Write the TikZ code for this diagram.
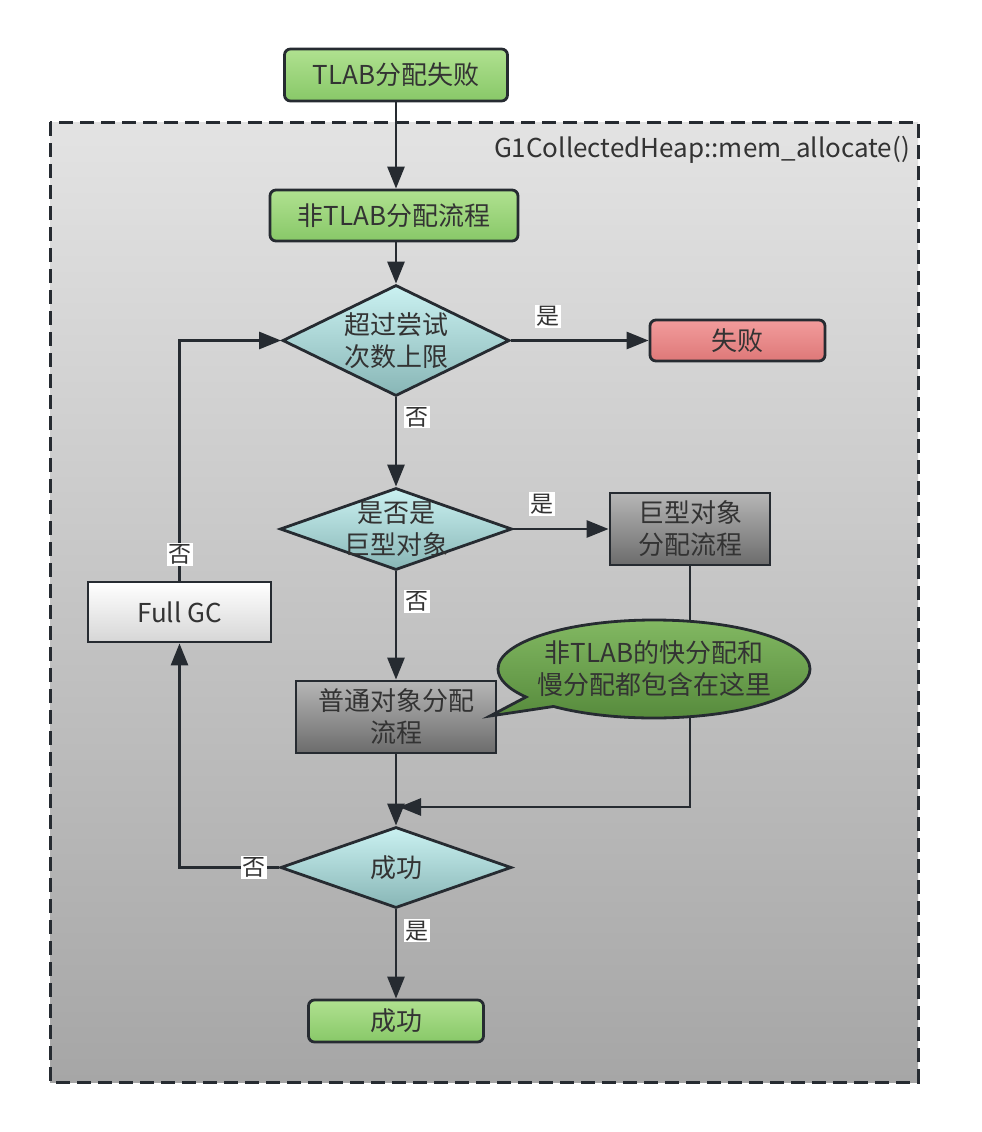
\documentclass[tikz,border=0pt]{standalone}
\usepackage{fontspec}
\setmainfont{Noto Sans CJK SC}
\usetikzlibrary{arrows.meta,shapes.geometric,shapes.callouts}
\newcommand{\fs}[2]{\fontsize{#1}{#2}\selectfont}

\definecolor{lc}{HTML}{262B31}
\definecolor{txt}{HTML}{333333}
\definecolor{bgA}{HTML}{E3E3E3}
\definecolor{bgB}{HTML}{A6A6A6}
\definecolor{gA}{HTML}{B0E190}
\definecolor{gB}{HTML}{88C868}
\definecolor{rA}{HTML}{F29C9C}
\definecolor{rB}{HTML}{DE7878}
\definecolor{kA}{HTML}{B6B6B6}
\definecolor{kB}{HTML}{6C6C6C}
\definecolor{wA}{HTML}{FFFFFF}
\definecolor{wB}{HTML}{D6D6D6}
\definecolor{dA}{HTML}{CAF1F1}
\definecolor{dB}{HTML}{88B6B6}
\definecolor{cA}{HTML}{82B862}
\definecolor{cB}{HTML}{54883A}

\tikzset{
  box/.style={draw=lc, line width=2.8pt, inner sep=0pt, align=center,
    text=txt, font=\fs{26}{32}},
  greenbox/.style={box, rounded corners=6pt, top color=gA, bottom color=gB},
  redbox/.style={box, rounded corners=6pt, top color=rA, bottom color=rB},
  graybox/.style={box, top color=kA, bottom color=kB},
  whitebox/.style={box, top color=wA, bottom color=wB},
  decision/.style={diamond, draw=lc, line width=2.8pt, inner sep=0pt,
    top color=dA, bottom color=dB},
  dtext/.style={align=center, text=txt, font=\fs{26}{32}, inner sep=0pt},
  arr/.style={draw=lc, line width=2.8pt, -{Triangle[length=22pt,width=17pt]}},
  lbl/.style={fill=white, text=txt, font=\fs{23}{27}, inner sep=1.5pt},
}

\begin{document}
\begin{tikzpicture}[x=1pt,y=-1pt]
\useasboundingbox (0,0) rectangle (982,1132);

% enclosing frame of G1CollectedHeap::mem_allocate()
\draw[lc, line width=3pt, dash pattern=on 14pt off 7pt, top color=bgA, bottom color=bgB]
  (50,122) rectangle (918,1082);
\node[anchor=east, text=txt, font=\fs{26}{32}, inner sep=0pt] (frame) at (910,150)
  {G1CollectedHeap::mem\_allocate()};

% process boxes
\node[greenbox, minimum width=223pt, minimum height=52pt] (tlab) at (396,75) {TLAB分配失败};
\node[greenbox, minimum width=248pt, minimum height=51pt] (ntlab) at (394,215.5) {非TLAB分配流程};
\node[redbox, minimum width=175pt, minimum height=41pt] (fail) at (737.5,340.5) {失败};
\node[graybox, minimum width=160pt, minimum height=72pt] (big) at (690,529) {巨型对象\\分配流程};
\node[graybox, minimum width=200pt, minimum height=72pt] (ord) at (396,717) {普通对象分配\\流程};
\node[whitebox, minimum width=183pt, minimum height=60pt] (fgc) at (179.5,612) {Full GC};
\node[greenbox, minimum width=175pt, minimum height=42pt] (ok) at (396,1021) {成功};

% decisions
\node[decision, minimum width=227pt, minimum height=111pt] (d1) at (396,340.5) {};
\node[dtext] (d1t) at (d1.center) {超过尝试\\次数上限};
\node[decision, minimum width=232pt, minimum height=82pt] (d2) at (396,529) {};
\node[dtext] (d2t) at (d2.center) {是否是\\巨型对象};
\node[decision, minimum width=231pt, minimum height=81pt] (d3) at (396,867.5) {};
\node[dtext] (d3t) at (d3.center) {成功};

% humongous branch joins the main line (runs behind the note)
\coordinate (merge) at (399,807);
\draw[arr] (big.south) |- (merge);

% note balloon pointing at the ordinary allocation box
\coordinate (tip) at (490,716);
\node[ellipse callout, callout absolute pointer={(tip)}, draw=lc, line width=2.8pt,
  top color=cA, bottom color=cB, minimum width=312pt, minimum height=98pt,
  inner sep=0pt] (note) at (654,669) {};
\node[dtext] (notet) at (note.center) {非TLAB的快分配和\\慢分配都包含在这里};

% connectors
\draw[arr] (tlab) -- (ntlab.north -| tlab);
\draw[arr] (ntlab.south -| d1.north) -- (d1.north);
\draw[arr] (d1.east) -- node[lbl, pos=0.27, yshift=24pt] {是} (fail.west);
\draw[arr] (d1.south) -- node[lbl, pos=0.22, anchor=west, xshift=7pt] {否} (d2.north);
\draw[arr] (d2.east) -- node[lbl, pos=0.3, yshift=25pt] {是} (big.west);
\draw[arr] (d2.south) -- node[lbl, pos=0.28, anchor=west, xshift=7pt] {否} (ord.north);
\draw[arr] (ord.south) -- (d3.north);
\coordinate (lowcorner) at (d3.west -| fgc.south);
\draw[arr] (d3.west) -- node[lbl, pos=0.25] {否} (lowcorner) -- (fgc.south);
\coordinate (upcorner) at (fgc.north |- d1.west);
\draw[arr] (fgc.north) -- node[lbl, pos=0.11] {否} (upcorner) -- (d1.west);
\draw[arr] (d3.south) -- node[lbl, pos=0.24, anchor=west, xshift=7pt] {是} (ok.north);
\end{tikzpicture}
\end{document}
